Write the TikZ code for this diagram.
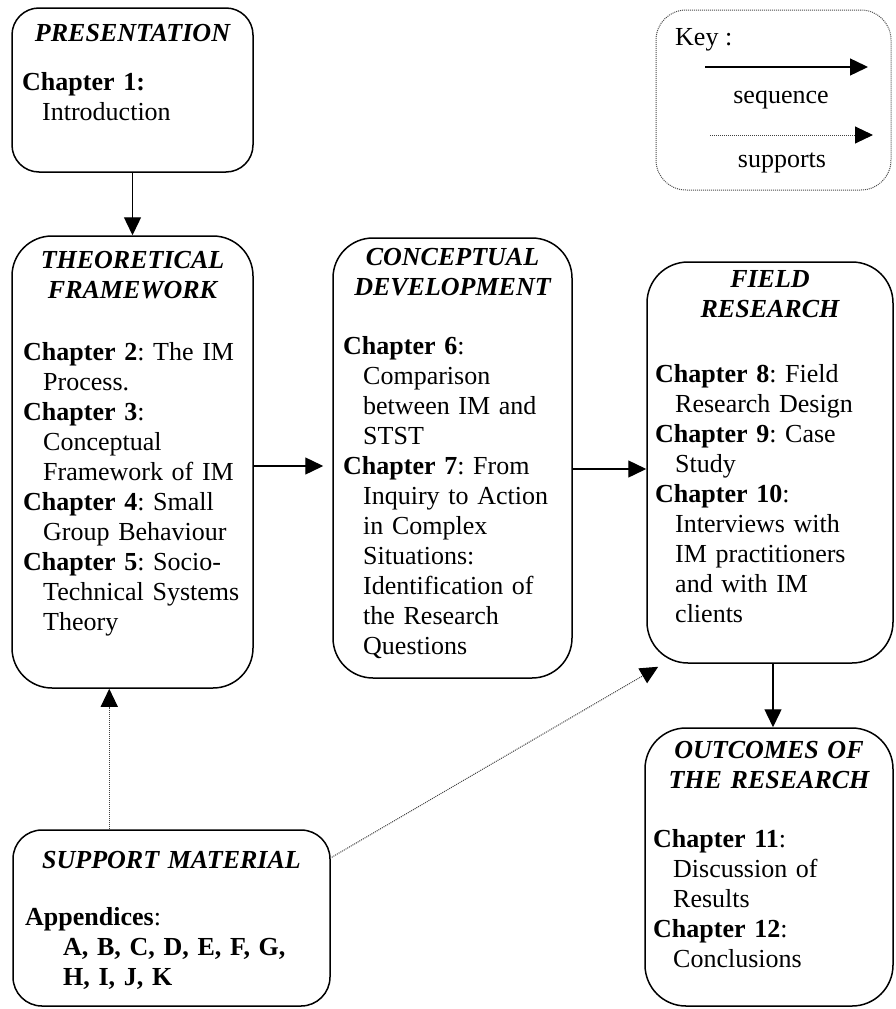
\documentclass[tikz,border=0pt]{standalone}
\usepackage{fontspec}
\setmainfont{Liberation Serif}
\usetikzlibrary{arrows.meta,calc}
% continuation lines are indented under the chapter label
\newcommand\cind{\hspace*{20pt}}
\newcommand\chap[1]{\textbf{Chapter #1}}
\begin{document}
\frenchspacing
\begin{tikzpicture}[x=1pt,y=-1pt,
  txt/.style={inner sep=0pt, font=\fontsize{26}{30}\selectfont\frenchspacing},
  frame/.style={draw, line width=1.5pt, inner sep=0pt},
  keyframe/.style={draw=black!70, line width=1pt, dash pattern=on 1pt off 1pt, inner sep=0pt},
  heading/.style={txt, anchor=base, text width=#1, align=center, font=\fontsize{26}{30}\selectfont\bfseries\itshape},
  body/.style={txt, anchor=base west, text width=300pt, align=left},
  seq/.style={-{Triangle[length=18pt,width=17pt]}, line width=1.4pt},
  supp/.style={-{Triangle[length=18pt,width=17pt,color=black]}, line width=1pt, black!75, dash pattern=on 1pt off 1pt}]

\useasboundingbox (0,0) rectangle (895,1009);

% ---- boxes ----
\node[frame, rounded corners=27pt, minimum width=241pt, minimum height=164pt] (pres) at (132.5,90) {};
\node[frame, rounded corners=40pt, minimum width=241pt, minimum height=452pt] (theo) at (132.5,462) {};
\node[frame, rounded corners=40pt, minimum width=239pt, minimum height=440pt] (conc) at (452.5,458) {};
\node[frame, rounded corners=41pt, minimum width=246pt, minimum height=401pt] (field) at (770,462.5) {};
\node[frame, rounded corners=41pt, minimum width=248pt, minimum height=278pt] (outc) at (769,867) {};
\node[frame, rounded corners=29pt, minimum width=317pt, minimum height=176pt] (supp) at (171.5,918) {};
\node[keyframe, rounded corners=30pt, minimum width=235pt, minimum height=180pt] (key) at (773.5,100) {};

% ---- headings ----
\node[heading=241pt] (presT) at (132.5,41) {PRESENTATION};
\node[heading=241pt] (theoT) at (132.5,268) {THEORETICAL\\FRAMEWORK};
\node[heading=239pt] (concT) at (452.5,265) {CONCEPTUAL\\DEVELOPMENT};
\node[heading=246pt] (fieldT) at (770,287) {FIELD\\RESEARCH};
\node[heading=248pt] (outcT) at (769,758) {OUTCOMES OF\\THE RESEARCH};
\node[heading=317pt] (suppT) at (171.5,868) {SUPPORT MATERIAL};

% ---- contents ----
\node[body] (presB) at (22,90) {\textbf{Chapter 1:}\\\cind Introduction};
\node[body] (theoB) at (23,360) {\chap{2}: The IM\\\cind Process.\\\chap{3}:\\\cind Conceptual\\\cind Framework of IM\\\chap{4}: Small\\\cind Group Behaviour\\\chap{5}: Socio-\\\cind Technical Systems\\\cind Theory};
\node[body] (concB) at (343,354) {\chap{6}:\\\cind Comparison\\\cind between IM and\\\cind STST\\\chap{7}: From\\\cind Inquiry to Action\\\cind in Complex\\\cind Situations:\\\cind Identification of\\\cind the Research\\\cind Questions};
\node[body] (fieldB) at (655,382) {\chap{8}: Field\\\cind Research Design\\\chap{9}: Case\\\cind Study\\\chap{10}:\\\cind Interviews with\\\cind IM practitioners\\\cind and with IM\\\cind clients};
\node[body] (outcB) at (653,847) {\chap{11}:\\\cind Discussion of\\\cind Results\\\chap{12}:\\\cind Conclusions};
\node[body] (suppB) at (25,925) {\textbf{Appendices}:\\\hspace*{38pt}\textbf{A, B, C, D, E, F, G,}\\\hspace*{38pt}\textbf{H, I, J, K}};

% ---- key ----
\node[txt, anchor=base west] (keyT) at (675,45) {Key :};
\coordinate (k1a) at (705,67);
\coordinate (k1b) at (868,67);
\coordinate (k2a) at (710,135);
\coordinate (k2b) at (873,135);
\draw[seq] (k1a) -- (k1b);
\draw[supp] (k2a) -- (k2b);
\node[txt, anchor=base] (keyS) at (781,103) {sequence};
\node[txt, anchor=base] (keyP) at (782,167) {supports};

% ---- connectors ----
\draw[seq] (pres) -- (theo);
\coordinate (a1) at ($(theo.east)+(0,4)$);
\draw[seq, shorten >=9pt] (a1) -- (a1 -| conc.west);
\coordinate (a2) at ($(conc.east)+(0,11)$);
\draw[seq] (a2) -- (a2 -| field.west);
\coordinate (a3) at ($(field.south)+(3,0)$);
\draw[seq] (a3) -- (a3 |- outc.north);
\coordinate (s1) at ($(supp.north west)+(97,0)$);
\draw[supp] (s1) -- (s1 |- theo.south);
\coordinate (s2) at ($(supp.north east)+(1,28)$);
\coordinate (s3) at ($(field.south west)+(12,3)$);
\draw[supp] (s2) -- (s3);
\end{tikzpicture}
\end{document}
